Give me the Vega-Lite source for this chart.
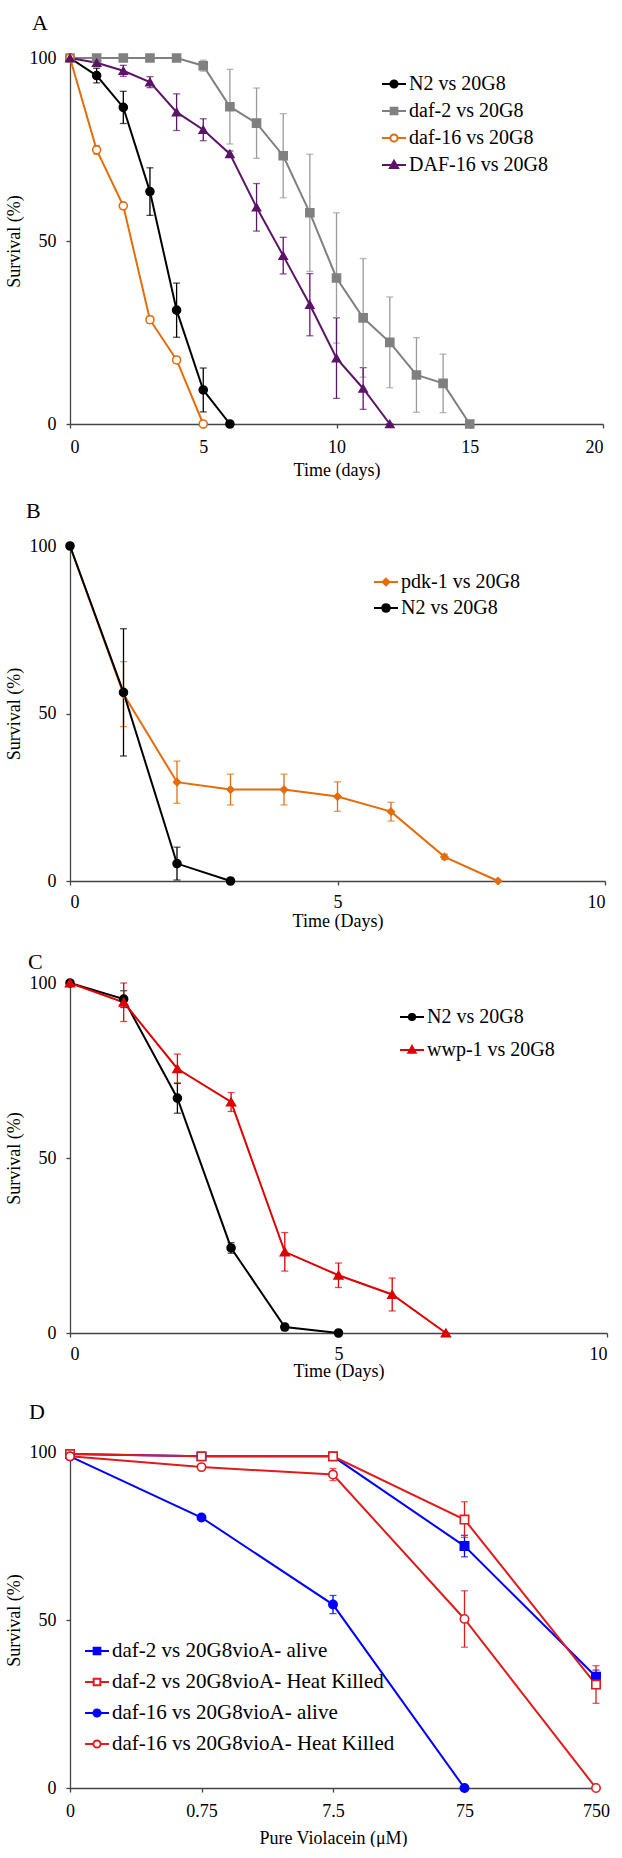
{
  "$schema": "https://vega.github.io/schema/vega-lite/v6.json",
  "padding": {"top": 12, "left": 5, "right": 0, "bottom": 0},
  "background": "white",
  "spacing": 21,
  "config": {
    "font": "Liberation Serif",
    "view": {"stroke": null},
    "axis": {"grid": false, "labelFont": "Liberation Serif", "labelFontSize": 18, "labelColor": "#000000", "titleFont": "Liberation Serif", "titleFontSize": 18, "titleFontWeight": "normal", "titleColor": "#000000", "domainColor": "#444444", "tickColor": "#444444", "tickSize": 4, "domainWidth": 1.3, "tickWidth": 1.3},
    "legend": {"labelFont": "Liberation Serif", "labelFontSize": 20, "labelColor": "#000000", "labelLimit": 600, "symbolStrokeWidth": 2, "symbolSize": 576, "labelOffset": 2, "padding": 0, "symbolOpacity": 1, "titleFontSize": 0},
    "title": {"font": "Liberation Serif", "fontSize": 22, "fontWeight": "normal", "anchor": "start", "frame": "group", "color": "#000000"}
  },
  "resolve": {"scale": {"x": "independent", "y": "independent", "stroke": "independent", "fill": "independent", "shape": "independent", "color": "independent"}},
  "vconcat": [
    {
      "width": 533, "height": 366,
      "title": {"text": "A", "dx": -38, "offset": 14},
      "data": {"values": [
        {"s": "N2 vs 20G8", "t": 0, "v": 100, "e": 0},
        {"s": "N2 vs 20G8", "t": 1, "v": 95.2, "e": 2},
        {"s": "N2 vs 20G8", "t": 2, "v": 86.5, "e": 4.4},
        {"s": "N2 vs 20G8", "t": 3, "v": 63.5, "e": 6.5},
        {"s": "N2 vs 20G8", "t": 4, "v": 31.1, "e": 7.4},
        {"s": "N2 vs 20G8", "t": 5, "v": 9.3, "e": 6},
        {"s": "N2 vs 20G8", "t": 6, "v": 0, "e": 0},
        {"s": "daf-2 vs 20G8", "t": 0, "v": 100, "e": 0},
        {"s": "daf-2 vs 20G8", "t": 1, "v": 100, "e": 0},
        {"s": "daf-2 vs 20G8", "t": 2, "v": 100, "e": 0},
        {"s": "daf-2 vs 20G8", "t": 3, "v": 100, "e": 0},
        {"s": "daf-2 vs 20G8", "t": 4, "v": 100, "e": 0},
        {"s": "daf-2 vs 20G8", "t": 5, "v": 97.9, "e": 1.5},
        {"s": "daf-2 vs 20G8", "t": 6, "v": 86.7, "e": 10.2},
        {"s": "daf-2 vs 20G8", "t": 7, "v": 82.2, "e": 9.6},
        {"s": "daf-2 vs 20G8", "t": 8, "v": 73.3, "e": 11.5},
        {"s": "daf-2 vs 20G8", "t": 9, "v": 57.7, "e": 16},
        {"s": "daf-2 vs 20G8", "t": 10, "v": 39.9, "e": 17.8},
        {"s": "daf-2 vs 20G8", "t": 11, "v": 29, "e": 16.2},
        {"s": "daf-2 vs 20G8", "t": 12, "v": 22.3, "e": 12.4},
        {"s": "daf-2 vs 20G8", "t": 13, "v": 13.4, "e": 10.2},
        {"s": "daf-2 vs 20G8", "t": 14, "v": 11.1, "e": 8},
        {"s": "daf-2 vs 20G8", "t": 15, "v": 0, "e": 0},
        {"s": "daf-16 vs 20G8", "t": 0, "v": 100, "e": 0},
        {"s": "daf-16 vs 20G8", "t": 1, "v": 74.9, "e": 1.2},
        {"s": "daf-16 vs 20G8", "t": 2, "v": 59.6, "e": 0.8},
        {"s": "daf-16 vs 20G8", "t": 3, "v": 28.5, "e": 1},
        {"s": "daf-16 vs 20G8", "t": 4, "v": 17.5, "e": 0.8},
        {"s": "daf-16 vs 20G8", "t": 5, "v": 0, "e": 0},
        {"s": "DAF-16 vs 20G8", "t": 0, "v": 100, "e": 0},
        {"s": "DAF-16 vs 20G8", "t": 1, "v": 98.7, "e": 1},
        {"s": "DAF-16 vs 20G8", "t": 2, "v": 96.5, "e": 1.5},
        {"s": "DAF-16 vs 20G8", "t": 3, "v": 93.4, "e": 1.5},
        {"s": "DAF-16 vs 20G8", "t": 4, "v": 85.2, "e": 5},
        {"s": "DAF-16 vs 20G8", "t": 5, "v": 80.4, "e": 3},
        {"s": "DAF-16 vs 20G8", "t": 6, "v": 73.8, "e": 0.8},
        {"s": "DAF-16 vs 20G8", "t": 7, "v": 59.2, "e": 6.5},
        {"s": "DAF-16 vs 20G8", "t": 8, "v": 46, "e": 5},
        {"s": "DAF-16 vs 20G8", "t": 9, "v": 32.6, "e": 8.5},
        {"s": "DAF-16 vs 20G8", "t": 10, "v": 18, "e": 11},
        {"s": "DAF-16 vs 20G8", "t": 11, "v": 9.7, "e": 5.7},
        {"s": "DAF-16 vs 20G8", "t": 12, "v": 0, "e": 0}
      ]},
      "encoding": {
        "x": {"field": "t", "type": "quantitative", "scale": {"domain": [0, 20], "nice": false}, "axis": {"values": [0, 5, 10, 15, 20], "title": "Time (days)", "labelPadding": 10, "titlePadding": 5}},
        "y": {"field": "v", "type": "quantitative", "scale": {"domain": [0, 100], "nice": false}, "axis": {"values": [0, 50, 100], "title": "Survival (%)", "labelPadding": 10, "titlePadding": 6}}
      },
      "resolve": {"scale": {"stroke": "independent", "fill": "independent", "shape": "independent", "color": "independent"}},
      "layer": [
        {"mark": {"type": "line", "strokeWidth": 2}, "encoding": {"stroke": {"field": "s", "type": "nominal", "scale": {"domain": ["N2 vs 20G8", "daf-2 vs 20G8", "daf-16 vs 20G8", "DAF-16 vs 20G8"], "range": ["#000000", "#808080", "#E46C0A", "#5C1468"]}, "legend": null}}},
        {"mark": {"type": "errorbar", "ticks": {"size": 7, "thickness": 1.3}, "thickness": 1.3}, "encoding": {"yError": {"field": "e"}, "color": {"field": "s", "type": "nominal", "scale": {"domain": ["N2 vs 20G8", "daf-2 vs 20G8", "daf-16 vs 20G8", "DAF-16 vs 20G8"], "range": ["#000000", "#9A9A9A", "#E46C0A", "#5C1468"]}, "legend": null}}},
        {"mark": {"type": "point", "filled": true, "opacity": 1, "size": 64, "strokeWidth": 1.6}, "encoding": {
          "stroke": {"field": "s", "type": "nominal", "scale": {"domain": ["N2 vs 20G8", "daf-2 vs 20G8", "daf-16 vs 20G8", "DAF-16 vs 20G8"], "range": ["#000000", "#808080", "#E46C0A", "#5C1468"]}, "legend": null},
          "fill": {"field": "s", "type": "nominal", "scale": {"domain": ["N2 vs 20G8", "daf-2 vs 20G8", "daf-16 vs 20G8", "DAF-16 vs 20G8"], "range": ["#000000", "#808080", "#FFFFFF", "#5C1468"]}, "legend": null},
          "shape": {"field": "s", "type": "nominal", "scale": {"domain": ["N2 vs 20G8", "daf-2 vs 20G8", "daf-16 vs 20G8", "DAF-16 vs 20G8"], "range": ["circle", "square", "circle", "triangle-up"]}, "legend": null}
        }},
        {"transform": [{"filter": "false"}], "mark": {"type": "point", "filled": true, "opacity": 1}, "encoding": {
          "stroke": {"field": "s", "type": "nominal", "scale": {"domain": ["N2 vs 20G8", "daf-2 vs 20G8", "daf-16 vs 20G8", "DAF-16 vs 20G8"], "range": ["#000000", "#808080", "#E46C0A", "#5C1468"]}, "legend": {"title": null, "orient": "none", "legendX": 311, "legendY": 13, "rowPadding": 4}},
          "fill": {"field": "s", "type": "nominal", "scale": {"domain": ["N2 vs 20G8", "daf-2 vs 20G8", "daf-16 vs 20G8", "DAF-16 vs 20G8"], "range": ["#000000", "#808080", "#FFFFFF", "#5C1468"]}, "legend": {"title": null, "orient": "none", "legendX": 311, "legendY": 13, "rowPadding": 4}},
          "shape": {"field": "s", "type": "nominal", "scale": {"domain": ["N2 vs 20G8", "daf-2 vs 20G8", "daf-16 vs 20G8", "DAF-16 vs 20G8"], "range": ["M-1,0H1M0.3,0A0.3,0.3,0,1,1,-0.3,0A0.3,0.3,0,1,1,0.3,0Z", "M-1,0H1M-0.28,-0.28H0.28V0.28H-0.28Z", "M-1,0H-0.3M0.3,0H1M0.3,0A0.3,0.3,0,1,1,-0.3,0A0.3,0.3,0,1,1,0.3,0Z", "M-1,0H1M0,-0.36L0.34,0.24H-0.34Z"]}, "legend": {"title": null, "orient": "none", "legendX": 311, "legendY": 13, "rowPadding": 4}}
        }}
      ]
    },
    {
      "width": 535, "height": 335,
      "title": {"text": "B", "dx": -44, "offset": 14},
      "data": {"values": [
        {"s": "pdk-1 vs 20G8", "t": 0, "v": 100, "e": 0},
        {"s": "pdk-1 vs 20G8", "t": 1, "v": 55.8, "e": 9.7},
        {"s": "pdk-1 vs 20G8", "t": 2, "v": 29.5, "e": 6.3},
        {"s": "pdk-1 vs 20G8", "t": 3, "v": 27.3, "e": 4.6},
        {"s": "pdk-1 vs 20G8", "t": 4, "v": 27.3, "e": 4.6},
        {"s": "pdk-1 vs 20G8", "t": 5, "v": 25.2, "e": 4.4},
        {"s": "pdk-1 vs 20G8", "t": 6, "v": 20.7, "e": 2.8},
        {"s": "pdk-1 vs 20G8", "t": 7, "v": 7.2, "e": 0.8},
        {"s": "pdk-1 vs 20G8", "t": 8, "v": 0, "e": 0},
        {"s": "N2 vs 20G8", "t": 0, "v": 100, "e": 0},
        {"s": "N2 vs 20G8", "t": 1, "v": 56.3, "e": 19},
        {"s": "N2 vs 20G8", "t": 2, "v": 5.2, "e": 4.9},
        {"s": "N2 vs 20G8", "t": 3, "v": 0, "e": 0}
      ]},
      "encoding": {
        "x": {"field": "t", "type": "quantitative", "scale": {"domain": [0, 10], "nice": false}, "axis": {"values": [0, 5, 10], "title": "Time (Days)", "labelPadding": 8, "titlePadding": 1}},
        "y": {"field": "v", "type": "quantitative", "scale": {"domain": [0, 100], "nice": false}, "axis": {"values": [0, 50, 100], "title": "Survival (%)", "labelPadding": 10, "titlePadding": 6}}
      },
      "resolve": {"scale": {"stroke": "independent", "fill": "independent", "shape": "independent", "color": "independent"}},
      "layer": [
        {"mark": {"type": "line", "strokeWidth": 2}, "encoding": {"stroke": {"field": "s", "type": "nominal", "scale": {"domain": ["pdk-1 vs 20G8", "N2 vs 20G8"], "range": ["#E46C0A", "#000000"]}, "legend": null}}},
        {"mark": {"type": "errorbar", "ticks": {"size": 7, "thickness": 1.3}, "thickness": 1.3}, "encoding": {"yError": {"field": "e"}, "color": {"field": "s", "type": "nominal", "scale": {"domain": ["pdk-1 vs 20G8", "N2 vs 20G8"], "range": ["#E46C0A", "#000000"]}, "legend": null}}},
        {"mark": {"type": "point", "filled": true, "opacity": 1, "strokeWidth": 1.5}, "encoding": {
          "stroke": {"field": "s", "type": "nominal", "scale": {"domain": ["pdk-1 vs 20G8", "N2 vs 20G8"], "range": ["#E46C0A", "#000000"]}, "legend": null},
          "fill": {"field": "s", "type": "nominal", "scale": {"domain": ["pdk-1 vs 20G8", "N2 vs 20G8"], "range": ["#E46C0A", "#000000"]}, "legend": null},
          "shape": {"field": "s", "type": "nominal", "scale": {"domain": ["pdk-1 vs 20G8", "N2 vs 20G8"], "range": ["diamond", "circle"]}, "legend": null},
          "size": {"field": "s", "type": "nominal", "scale": {"domain": ["pdk-1 vs 20G8", "N2 vs 20G8"], "range": [50, 80]}, "legend": null}
        }},
        {"transform": [{"filter": "false"}], "mark": {"type": "point", "filled": true, "opacity": 1}, "encoding": {
          "stroke": {"field": "s", "type": "nominal", "scale": {"domain": ["pdk-1 vs 20G8", "N2 vs 20G8"], "range": ["#E46C0A", "#000000"]}, "legend": {"title": null, "orient": "none", "legendX": 303, "legendY": 23, "rowPadding": 3}},
          "fill": {"field": "s", "type": "nominal", "scale": {"domain": ["pdk-1 vs 20G8", "N2 vs 20G8"], "range": ["#E46C0A", "#000000"]}, "legend": {"title": null, "orient": "none", "legendX": 303, "legendY": 23, "rowPadding": 3}},
          "shape": {"field": "s", "type": "nominal", "scale": {"domain": ["pdk-1 vs 20G8", "N2 vs 20G8"], "range": ["M-1,0H1M0,-0.28L0.28,0L0,0.28L-0.28,0Z", "M-1,0H1M0.32,0A0.32,0.32,0,1,1,-0.32,0A0.32,0.32,0,1,1,0.32,0Z"]}, "legend": {"title": null, "orient": "none", "legendX": 303, "legendY": 23, "rowPadding": 3}}
        }}
      ]
    },
    {
      "width": 537, "height": 350,
      "title": {"text": "C", "dx": -42, "offset": 0},
      "data": {"values": [
        {"s": "N2 vs 20G8", "t": 0, "v": 100, "e": 0},
        {"s": "N2 vs 20G8", "t": 1, "v": 95.4, "e": 2.4},
        {"s": "N2 vs 20G8", "t": 2, "v": 67.1, "e": 4.3},
        {"s": "N2 vs 20G8", "t": 3, "v": 24.3, "e": 1.5},
        {"s": "N2 vs 20G8", "t": 4, "v": 1.7, "e": 1},
        {"s": "N2 vs 20G8", "t": 5, "v": 0, "e": 0},
        {"s": "wwp-1 vs 20G8", "t": 0, "v": 100, "e": 0},
        {"s": "wwp-1 vs 20G8", "t": 1, "v": 94.5, "e": 5.5},
        {"s": "wwp-1 vs 20G8", "t": 2, "v": 75.5, "e": 4.2},
        {"s": "wwp-1 vs 20G8", "t": 3, "v": 66, "e": 2.7},
        {"s": "wwp-1 vs 20G8", "t": 4, "v": 23.2, "e": 5.5},
        {"s": "wwp-1 vs 20G8", "t": 5, "v": 16.5, "e": 3.5},
        {"s": "wwp-1 vs 20G8", "t": 6, "v": 11, "e": 4.7},
        {"s": "wwp-1 vs 20G8", "t": 7, "v": 0, "e": 0}
      ]},
      "encoding": {
        "x": {"field": "t", "type": "quantitative", "scale": {"domain": [0, 10], "nice": false}, "axis": {"values": [0, 5, 10], "title": "Time (Days)", "labelPadding": 8, "titlePadding": -1}},
        "y": {"field": "v", "type": "quantitative", "scale": {"domain": [0, 100], "nice": false}, "axis": {"values": [0, 50, 100], "title": "Survival (%)", "labelPadding": 10, "titlePadding": 6}}
      },
      "resolve": {"scale": {"stroke": "independent", "fill": "independent", "shape": "independent", "color": "independent"}},
      "layer": [
        {"mark": {"type": "line", "strokeWidth": 2}, "encoding": {"stroke": {"field": "s", "type": "nominal", "scale": {"domain": ["N2 vs 20G8", "wwp-1 vs 20G8"], "range": ["#000000", "#DD0000"]}, "legend": null}}},
        {"mark": {"type": "errorbar", "ticks": {"size": 7, "thickness": 1.3}, "thickness": 1.3}, "encoding": {"yError": {"field": "e"}, "color": {"field": "s", "type": "nominal", "scale": {"domain": ["N2 vs 20G8", "wwp-1 vs 20G8"], "range": ["#000000", "#DD0000"]}, "legend": null}}},
        {"mark": {"type": "point", "filled": true, "opacity": 1, "strokeWidth": 1.5}, "encoding": {
          "stroke": {"field": "s", "type": "nominal", "scale": {"domain": ["N2 vs 20G8", "wwp-1 vs 20G8"], "range": ["#000000", "#DD0000"]}, "legend": null},
          "fill": {"field": "s", "type": "nominal", "scale": {"domain": ["N2 vs 20G8", "wwp-1 vs 20G8"], "range": ["#000000", "#DD0000"]}, "legend": null},
          "shape": {"field": "s", "type": "nominal", "scale": {"domain": ["N2 vs 20G8", "wwp-1 vs 20G8"], "range": ["circle", "triangle-up"]}, "legend": null},
          "size": {"field": "s", "type": "nominal", "scale": {"domain": ["N2 vs 20G8", "wwp-1 vs 20G8"], "range": [50, 70]}, "legend": null}
        }},
        {"transform": [{"filter": "false"}], "mark": {"type": "point", "filled": true, "opacity": 1}, "encoding": {
          "stroke": {"field": "s", "type": "nominal", "scale": {"domain": ["N2 vs 20G8", "wwp-1 vs 20G8"], "range": ["#000000", "#DD0000"]}, "legend": {"title": null, "orient": "none", "legendX": 329, "legendY": 21, "rowPadding": 10}},
          "fill": {"field": "s", "type": "nominal", "scale": {"domain": ["N2 vs 20G8", "wwp-1 vs 20G8"], "range": ["#000000", "#DD0000"]}, "legend": {"title": null, "orient": "none", "legendX": 329, "legendY": 21, "rowPadding": 10}},
          "shape": {"field": "s", "type": "nominal", "scale": {"domain": ["N2 vs 20G8", "wwp-1 vs 20G8"], "range": ["M-1,0H1M0.26,0A0.26,0.26,0,1,1,-0.26,0A0.26,0.26,0,1,1,0.26,0Z", "M-1,0H1M0,-0.32L0.3,0.22H-0.3Z"]}, "legend": {"title": null, "orient": "none", "legendX": 329, "legendY": 21, "rowPadding": 10}}
        }}
      ]
    },
    {
      "width": 526, "height": 336,
      "title": {"text": "D", "dx": -41, "offset": 19},
      "data": {"values": [
        {"s": "daf-2 vs 20G8vioA- alive", "c": "0", "v": 99.4, "e": 0},
        {"s": "daf-2 vs 20G8vioA- alive", "c": "0.75", "v": 98.7, "e": 0},
        {"s": "daf-2 vs 20G8vioA- alive", "c": "7.5", "v": 98.7, "e": 0.8},
        {"s": "daf-2 vs 20G8vioA- alive", "c": "75", "v": 72, "e": 3.2},
        {"s": "daf-2 vs 20G8vioA- alive", "c": "750", "v": 33.1, "e": 2},
        {"s": "daf-2 vs 20G8vioA- Heat Killed", "c": "0", "v": 99.4, "e": 0},
        {"s": "daf-2 vs 20G8vioA- Heat Killed", "c": "0.75", "v": 98.7, "e": 0},
        {"s": "daf-2 vs 20G8vioA- Heat Killed", "c": "7.5", "v": 98.7, "e": 0},
        {"s": "daf-2 vs 20G8vioA- Heat Killed", "c": "75", "v": 79.9, "e": 5.3},
        {"s": "daf-2 vs 20G8vioA- Heat Killed", "c": "750", "v": 30.8, "e": 5.6},
        {"s": "daf-16 vs 20G8vioA- alive", "c": "0", "v": 98.7, "e": 0},
        {"s": "daf-16 vs 20G8vioA- alive", "c": "0.75", "v": 80.5, "e": 0},
        {"s": "daf-16 vs 20G8vioA- alive", "c": "7.5", "v": 54.6, "e": 2.7},
        {"s": "daf-16 vs 20G8vioA- alive", "c": "75", "v": 0, "e": 0},
        {"s": "daf-16 vs 20G8vioA- Heat Killed", "c": "0", "v": 98.7, "e": 0},
        {"s": "daf-16 vs 20G8vioA- Heat Killed", "c": "0.75", "v": 95.5, "e": 0},
        {"s": "daf-16 vs 20G8vioA- Heat Killed", "c": "7.5", "v": 93.3, "e": 1.8},
        {"s": "daf-16 vs 20G8vioA- Heat Killed", "c": "75", "v": 50.3, "e": 8.4},
        {"s": "daf-16 vs 20G8vioA- Heat Killed", "c": "750", "v": 0, "e": 0}
      ]},
      "encoding": {
        "x": {"field": "c", "type": "ordinal", "scale": {"type": "point", "padding": 0, "domain": ["0", "0.75", "7.5", "75", "750"]}, "axis": {"labelAngle": 0, "title": "Pure Violacein (μM)", "labelPadding": 10, "titlePadding": 9}},
        "y": {"field": "v", "type": "quantitative", "scale": {"domain": [0, 100], "nice": false}, "axis": {"values": [0, 50, 100], "title": "Survival (%)", "labelPadding": 10, "titlePadding": 6}}
      },
      "resolve": {"scale": {"stroke": "independent", "fill": "independent", "shape": "independent", "color": "independent"}},
      "layer": [
        {"mark": {"type": "line", "strokeWidth": 2}, "encoding": {"stroke": {"field": "s", "type": "nominal", "scale": {"domain": ["daf-2 vs 20G8vioA- alive", "daf-2 vs 20G8vioA- Heat Killed", "daf-16 vs 20G8vioA- alive", "daf-16 vs 20G8vioA- Heat Killed"], "range": ["#0000FF", "#E01B1B", "#0000FF", "#E01B1B"]}, "legend": null}}},
        {"mark": {"type": "errorbar", "ticks": {"size": 7, "thickness": 1.3}, "thickness": 1.3}, "encoding": {"yError": {"field": "e"}, "color": {"field": "s", "type": "nominal", "scale": {"domain": ["daf-2 vs 20G8vioA- alive", "daf-2 vs 20G8vioA- Heat Killed", "daf-16 vs 20G8vioA- alive", "daf-16 vs 20G8vioA- Heat Killed"], "range": ["#0000FF", "#E01B1B", "#0000FF", "#E01B1B"]}, "legend": null}}},
        {"mark": {"type": "point", "filled": true, "opacity": 1, "size": 70, "strokeWidth": 1.6}, "encoding": {
          "stroke": {"field": "s", "type": "nominal", "scale": {"domain": ["daf-2 vs 20G8vioA- alive", "daf-2 vs 20G8vioA- Heat Killed", "daf-16 vs 20G8vioA- alive", "daf-16 vs 20G8vioA- Heat Killed"], "range": ["#0000FF", "#E01B1B", "#0000FF", "#E01B1B"]}, "legend": null},
          "fill": {"field": "s", "type": "nominal", "scale": {"domain": ["daf-2 vs 20G8vioA- alive", "daf-2 vs 20G8vioA- Heat Killed", "daf-16 vs 20G8vioA- alive", "daf-16 vs 20G8vioA- Heat Killed"], "range": ["#0000FF", "#FFFFFF", "#0000FF", "#FFFFFF"]}, "legend": null},
          "shape": {"field": "s", "type": "nominal", "scale": {"domain": ["daf-2 vs 20G8vioA- alive", "daf-2 vs 20G8vioA- Heat Killed", "daf-16 vs 20G8vioA- alive", "daf-16 vs 20G8vioA- Heat Killed"], "range": ["square", "square", "circle", "circle"]}, "legend": null}
        }},
        {"transform": [{"filter": "false"}], "mark": {"type": "point", "filled": true, "opacity": 1}, "encoding": {
          "stroke": {"field": "s", "type": "nominal", "scale": {"domain": ["daf-2 vs 20G8vioA- alive", "daf-2 vs 20G8vioA- Heat Killed", "daf-16 vs 20G8vioA- alive", "daf-16 vs 20G8vioA- Heat Killed"], "range": ["#0000FF", "#E01B1B", "#0000FF", "#E01B1B"]}, "legend": {"title": null, "orient": "none", "legendX": 14, "legendY": 186, "rowPadding": 8, "labelFontSize": 21}},
          "fill": {"field": "s", "type": "nominal", "scale": {"domain": ["daf-2 vs 20G8vioA- alive", "daf-2 vs 20G8vioA- Heat Killed", "daf-16 vs 20G8vioA- alive", "daf-16 vs 20G8vioA- Heat Killed"], "range": ["#0000FF", "#FFFFFF", "#0000FF", "#FFFFFF"]}, "legend": {"title": null, "orient": "none", "legendX": 14, "legendY": 186, "rowPadding": 8, "labelFontSize": 21}},
          "shape": {"field": "s", "type": "nominal", "scale": {"domain": ["daf-2 vs 20G8vioA- alive", "daf-2 vs 20G8vioA- Heat Killed", "daf-16 vs 20G8vioA- alive", "daf-16 vs 20G8vioA- Heat Killed"], "range": ["M-1,0H1M-0.28,-0.28H0.28V0.28H-0.28Z", "M-1,0H-0.28M0.28,0H1M-0.28,-0.28H0.28V0.28H-0.28Z", "M-1,0H1M0.3,0A0.3,0.3,0,1,1,-0.3,0A0.3,0.3,0,1,1,0.3,0Z", "M-1,0H-0.3M0.3,0H1M0.3,0A0.3,0.3,0,1,1,-0.3,0A0.3,0.3,0,1,1,0.3,0Z"]}, "legend": {"title": null, "orient": "none", "legendX": 14, "legendY": 186, "rowPadding": 8, "labelFontSize": 21}}
        }}
      ]
    }
  ]
}
